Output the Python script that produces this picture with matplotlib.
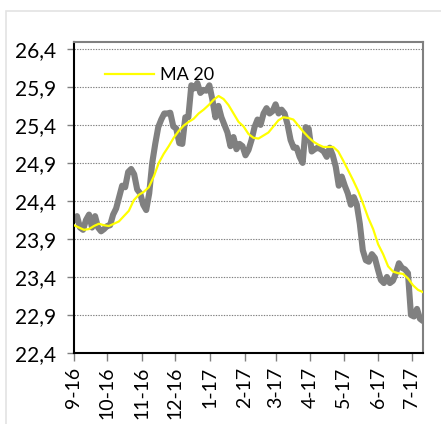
## Price chart with 20-day moving average

import matplotlib
matplotlib.use('Agg')
import matplotlib.pyplot as plt
import matplotlib.dates as mdates
from matplotlib.patches import Rectangle
import pandas as pd

## Data
start_date = '2016-09-01'
end_date = '2017-07-11'

price = [24.15, 24.2, 24.05, 24.02, 24.15, 24.22, 24.05, 24.2, 24.05, 24.0,
         24.03, 24.07, 24.08, 24.22, 24.3, 24.45, 24.6, 24.58, 24.78, 24.82,
         24.75, 24.55, 24.5, 24.35, 24.28, 24.5, 24.9, 25.15, 25.37, 25.47,
         25.55, 25.55, 25.56, 25.38, 25.35, 25.16, 25.15, 25.5, 25.5, 25.92,
         25.88, 25.95, 25.82, 25.86, 25.85, 25.92, 25.73, 25.5, 25.65, 25.5,
         25.4, 25.3, 25.12, 25.24, 25.08, 25.15, 25.12, 25.0, 25.07, 25.2,
         25.37, 25.47, 25.4, 25.55, 25.62, 25.55, 25.58, 25.67, 25.55, 25.6,
         25.55, 25.4, 25.2, 25.1, 25.1, 24.98, 24.9, 25.37, 25.35, 25.05,
         25.08, 25.1, 25.08, 25.05, 24.98, 25.1, 25.0, 24.85, 24.6, 24.72,
         24.6, 24.5, 24.35, 24.45, 24.35, 24.1, 23.75, 23.62, 23.6, 23.7,
         23.65, 23.5, 23.36, 23.32, 23.4, 23.32, 23.35, 23.45, 23.58, 23.52,
         23.5, 23.45, 22.9, 22.88, 22.98, 22.85, 22.82]

ma20 = [24.08, 24.05, 24.02, 24.03, 24.07, 24.1, 24.08, 24.07, 24.1, 24.13,
        24.2, 24.27, 24.41, 24.48, 24.52, 24.58, 24.72, 24.9, 25.02, 25.12,
        25.23, 25.32, 25.39, 25.44, 25.48, 25.55, 25.6, 25.66, 25.73, 25.78,
        25.74, 25.66, 25.55, 25.44, 25.38, 25.28, 25.23, 25.22, 25.26, 25.3,
        25.38, 25.46, 25.5, 25.49, 25.47, 25.39, 25.31, 25.24, 25.18, 25.14,
        25.11, 25.11, 25.11, 25.05, 24.93, 24.8, 24.67, 24.53, 24.36, 24.18,
        24.03, 23.83, 23.7, 23.54, 23.47, 23.45, 23.44, 23.38, 23.29, 23.23,
        23.2]

y_ticks = [22.4, 22.9, 23.4, 23.9, 24.4, 24.9, 25.4, 25.9, 26.4]

price_dates = pd.date_range(start_date, end_date, periods=len(price))
ma_dates = pd.date_range(start_date, end_date, periods=len(ma20))

## Plotting
plt.rcParams['font.family'] = ['Lato', 'DejaVu Sans']

fig = plt.figure(figsize=(4.41, 4.24), dpi=100)
# light outer frame (only top and left edges visible)
fig.patches.append(Rectangle((6 / 441, -0.1), 1.2, 1 - 11 / 424 + 0.1,
                             transform=fig.transFigure, fill=False,
                             edgecolor='#e3e3e3', linewidth=1.2))

ax = fig.add_axes([74 / 441, 1 - 353 / 424, 349 / 441, 311 / 424])

ax.plot(price_dates, price, color='#808080', linewidth=4.4,
        solid_joinstyle='round', solid_capstyle='round', zorder=2)
ax.plot(ma_dates, ma20, color='#ffff00', linewidth=1.6, label='MA 20', zorder=3)

ax.set_xlim(pd.Timestamp(start_date), pd.Timestamp(end_date))
ax.set_ylim(22.4, 26.49)

ax.set_yticks(y_ticks)
ax.set_yticklabels([('%.1f' % v).replace('.', ',') for v in y_ticks])
ax.yaxis.grid(True, linestyle=(0, (1.2, 1.2)), color='#7f7f7f', linewidth=0.8)
ax.set_axisbelow(True)

ax.xaxis.set_major_locator(mdates.MonthLocator())
ax.xaxis.set_major_formatter(plt.FuncFormatter(
    lambda v, p: '%d-%s' % (mdates.num2date(v).month, mdates.num2date(v).strftime('%y'))))
plt.setp(ax.get_xticklabels(), rotation=90)

ax.tick_params(axis='y', length=5, width=1, color='#808080', pad=8, labelsize=15)
ax.tick_params(axis='x', length=6, width=1, color='#808080', pad=4, labelsize=14)

for side in ['left', 'bottom']:
    ax.spines[side].set_color('black')
    ax.spines[side].set_linewidth(1.5)
for side in ['top', 'right']:
    ax.spines[side].set_color('#808080')
    ax.spines[side].set_linewidth(1.5)

ax.legend(loc='center left', bbox_to_anchor=(0.089, 0.894), frameon=False,
          borderpad=0, borderaxespad=0, handlelength=2.7, handletextpad=0.35,
          fontsize=13)

fig.savefig('out.png', dpi=100)
